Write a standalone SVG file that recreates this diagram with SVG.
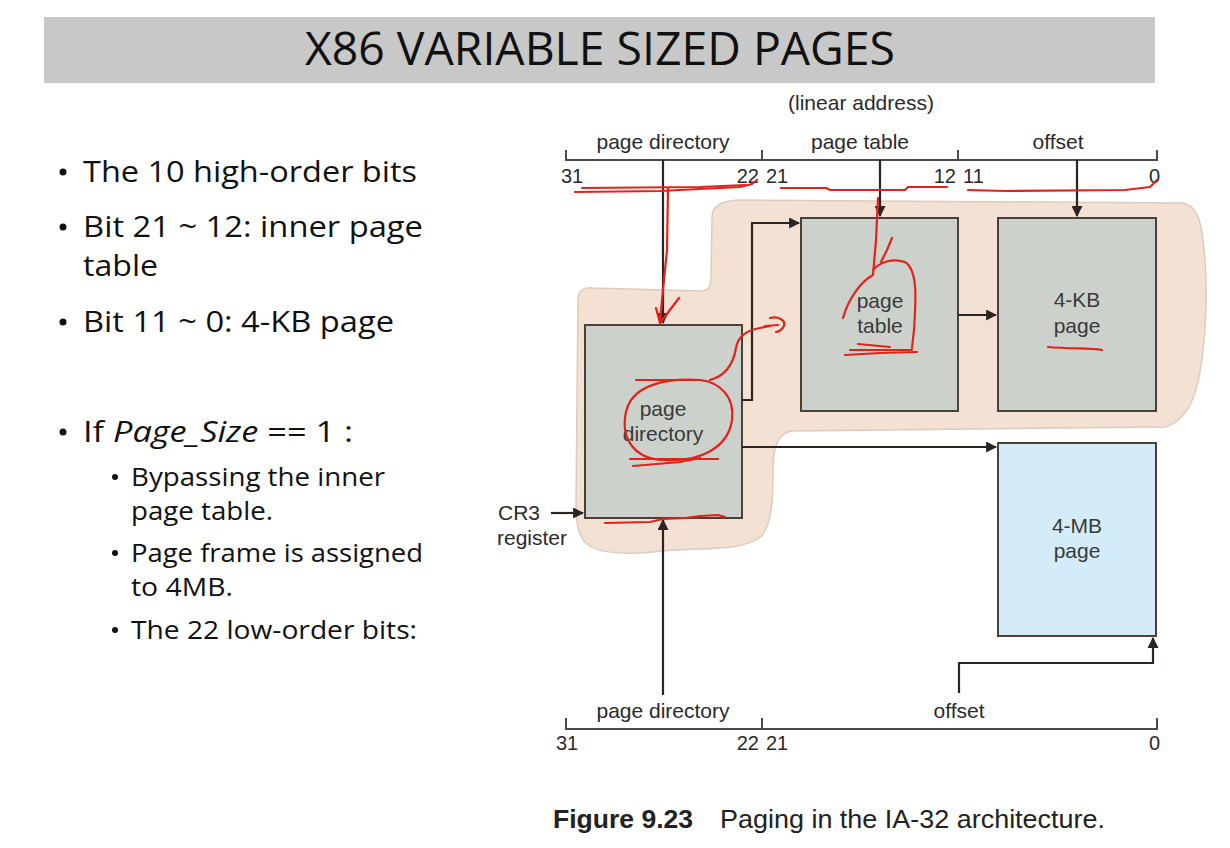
<svg xmlns="http://www.w3.org/2000/svg" width="1230" height="848" viewBox="0 0 1230 848">
<defs>
<marker id="ah" viewBox="0 0 10 10" refX="9" refY="5" markerWidth="5" markerHeight="5" orient="auto-start-reverse" markerUnits="strokeWidth">
<path d="M0,0 L10,5 L0,10 Z" fill="#2a2520"/>
</marker>
<style>
.slide{font-family:"Open Sans","Noto Sans",sans-serif;fill:#111}
.lbl{font-family:"Liberation Sans",Arial,sans-serif;font-size:21px;fill:#2a2a2a}
.num{font-family:"Liberation Sans",Arial,sans-serif;font-size:20px;fill:#2a2a2a}
.box{fill:#cdd1cc;stroke:#4a4038;stroke-width:2}
.box4mb{fill:#d4ecf8;stroke:#4a4038;stroke-width:2}
.btxt{font-family:"Liberation Sans",Arial,sans-serif;font-size:21px;fill:#3a3a3a;text-anchor:middle}
.bar{fill:none;stroke:#4a4a4a;stroke-width:2}
.conn{fill:none;stroke:#2a2520;stroke-width:2.2;marker-end:url(#ah)}
.red{fill:none;stroke:#e0231b;stroke-width:2.2;stroke-linecap:round;stroke-linejoin:round}
.cap{font-family:"Liberation Sans",Arial,sans-serif;font-size:26px;fill:#222}
</style>
</defs>
<rect width="1230" height="848" fill="#ffffff"/>

<g id="title">
<rect x="44" y="17" width="1111" height="66" fill="#c8c8c8"/>
<text x="600" y="65" class="slide" font-size="46" text-anchor="middle" textLength="590" lengthAdjust="spacingAndGlyphs">X86 VARIABLE SIZED PAGES</text>
</g>

<g id="bullets" class="slide">
<circle cx="63" cy="172" r="3.5" fill="#111"/>
<text x="83" y="182" font-size="30" textLength="334" lengthAdjust="spacingAndGlyphs">The 10 high-order bits</text>
<circle cx="63" cy="227" r="3.5" fill="#111"/>
<text x="83" y="237" font-size="30" textLength="340" lengthAdjust="spacingAndGlyphs">Bit 21 ~ 12: inner page</text>
<text x="83" y="276" font-size="30" textLength="75" lengthAdjust="spacingAndGlyphs">table</text>
<circle cx="63" cy="322" r="3.5" fill="#111"/>
<text x="83" y="332" font-size="30" textLength="311" lengthAdjust="spacingAndGlyphs">Bit 11 ~ 0: 4-KB page</text>
<circle cx="63" cy="432" r="3.5" fill="#111"/>
<text x="83" y="442" font-size="30" textLength="270" lengthAdjust="spacingAndGlyphs">If <tspan font-style="italic">Page_Size</tspan> == 1 :</text>
<circle cx="115" cy="477" r="3" fill="#111"/>
<text x="131" y="486" font-size="25" textLength="254" lengthAdjust="spacingAndGlyphs">Bypassing the inner</text>
<text x="131" y="520" font-size="25" textLength="142" lengthAdjust="spacingAndGlyphs">page table.</text>
<circle cx="115" cy="553" r="3" fill="#111"/>
<text x="131" y="562" font-size="25" textLength="292" lengthAdjust="spacingAndGlyphs">Page frame is assigned</text>
<text x="131" y="596" font-size="25" textLength="102" lengthAdjust="spacingAndGlyphs">to 4MB.</text>
<circle cx="115" cy="630" r="3" fill="#111"/>
<text x="131" y="639" font-size="25" textLength="286" lengthAdjust="spacingAndGlyphs">The 22 low-order bits:</text>
</g>

<g id="region">
<path d="M712,218 C712,206 720,201 740,200 L1182,203 C1194,205 1200,214 1203,240 C1208,280 1207,330 1200,372 C1195,402 1184,422 1165,427 L792,431 C778,433 773,446 773,470 C773,500 772,522 762,536 C742,552 705,547 662,551 C630,555 600,554 588,545 C577,536 576,520 576,500 L578,300 C578,291 583,287 592,288 L700,291 C709,291 711,286 711,276 Z" fill="#f3e1d3" stroke="#ddcbbd" stroke-width="1.5"/>
</g>

<g id="linear-address-top">
<text x="861" y="110" class="lbl" text-anchor="middle">(linear address)</text>
<path class="bar" d="M566,150 V160 H1157 V150 M762,150 V160 M958,150 V160"/>
<text x="663" y="149" class="lbl" text-anchor="middle">page directory</text>
<text x="860" y="149" class="lbl" text-anchor="middle">page table</text>
<text x="1058" y="149" class="lbl" text-anchor="middle">offset</text>
<text x="561" y="183" class="num">31</text>
<text x="759" y="183" class="num" text-anchor="end">22</text>
<text x="766" y="183" class="num">21</text>
<text x="956" y="183" class="num" text-anchor="end">12</text>
<text x="963" y="183" class="num">11</text>
<text x="1160" y="183" class="num" text-anchor="end">0</text>
</g>

<g id="page-directory">
<rect class="box" x="585" y="325" width="157" height="193"/>
<text class="btxt" x="663" y="416">page</text>
<text class="btxt" x="663" y="441">directory</text>
</g>
<g id="page-table">
<rect class="box" x="801" y="218" width="157" height="193"/>
<text class="btxt" x="880" y="308">page</text>
<text class="btxt" x="880" y="333">table</text>
</g>
<g id="page-4kb">
<rect class="box" x="998" y="218" width="158" height="193"/>
<text class="btxt" x="1077" y="307">4-KB</text>
<text class="btxt" x="1077" y="333">page</text>
</g>
<g id="page-4mb">
<rect class="box4mb" x="998" y="443" width="158" height="193"/>
<text class="btxt" x="1077" y="533">4-MB</text>
<text class="btxt" x="1077" y="558">page</text>
</g>
<g id="cr3">
<text x="498" y="520" class="lbl">CR3</text>
<text x="497" y="545" class="lbl">register</text>
</g>

<g id="linear-address-bottom">
<path class="bar" d="M566,718 V729 H1157 V718 M762,718 V729"/>
<text x="663" y="718" class="lbl" text-anchor="middle">page directory</text>
<text x="959" y="718" class="lbl" text-anchor="middle">offset</text>
<text x="556" y="750" class="num">31</text>
<text x="759" y="750" class="num" text-anchor="end">22</text>
<text x="766" y="750" class="num">21</text>
<text x="1160" y="750" class="num" text-anchor="end">0</text>
</g>

<g id="connectors">
<path class="conn" d="M663,160 V323"/>
<path class="conn" d="M880,160 V216"/>
<path class="conn" d="M1077,160 V216"/>
<path class="conn" d="M742,400 H752 V223 H799"/>
<path class="conn" d="M958,315 H996"/>
<path class="conn" d="M742,447 H996"/>
<path class="conn" d="M551,513 H583"/>
<path class="conn" d="M663,695 V520"/>
<path class="conn" d="M959,693 V663 H1153 V638"/>
</g>

<g id="annotations">
<path class="red" d="M575,192 L660,191 L700,189 L740,187 L752,184 L757,180"/>
<path class="red" d="M582,188 L700,187 L745,185"/>
<path class="red" d="M781,188 L826,188 L830,190 L905,190 L908,187 L947,187"/>
<path class="red" d="M968,190 L1005,191 L1125,190 L1150,187 L1157,180"/>
<path class="red" d="M668,188 L667,250 L662,300 L660,323"/>
<path class="red" d="M656,308 L660,323 L679,298"/>
<path class="red" d="M700,380 C665,378 632,385 626,412 C620,440 636,460 665,460 C700,462 728,448 732,420 C735,395 718,382 700,380"/>
<path class="red" d="M636,380 L700,380"/>
<path class="red" d="M710,380 C725,376 733,366 736,348 C738,335 748,330 760,328 L770,326"/>
<path class="red" d="M770,318 C778,316 786,320 784,326 C782,330 778,332 776,332 M765,326 L778,325"/>
<path class="red" d="M630,459 L718,459 M633,466 L680,462 L700,458"/>
<path class="red" d="M605,523 L650,522 L663,519 L685,518 L700,516 L718,515 L725,517"/>
<path class="red" d="M878,198 L876,240 L873,275 C860,282 848,300 843,318"/>
<path class="red" d="M873,270 C880,262 892,258 905,262 C918,270 916,300 914,330 L912,348"/>
<path class="red" d="M881,262 L887,250 L892,238"/>
<path class="red" d="M845,355 L880,353 L917,352 M858,344 L890,347 M850,350 L912,350"/>
<path class="red" d="M1048,347 C1070,349 1090,348 1102,350"/>
</g>

<g id="caption">
<text x="553" y="828" class="cap" font-weight="bold" textLength="140" lengthAdjust="spacingAndGlyphs">Figure 9.23</text>
<text x="720" y="828" class="cap" textLength="385" lengthAdjust="spacingAndGlyphs">Paging in the IA-32 architecture.</text>
</g>
</svg>
